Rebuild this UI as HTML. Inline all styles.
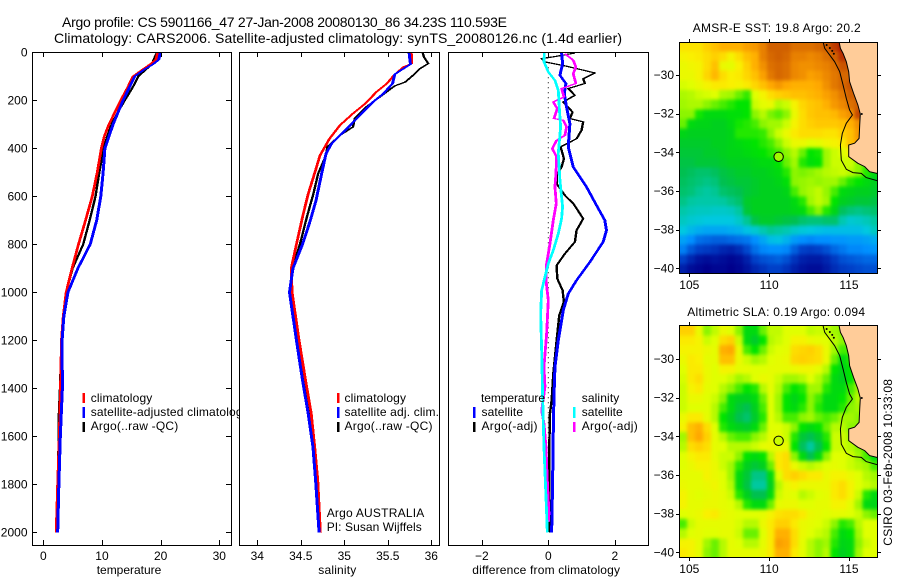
<!DOCTYPE html>
<html>
<head>
<meta charset="utf-8">
<title>Argo profile</title>
<style>
html,body{margin:0;padding:0;background:#fff;}
svg{display:block;}
text{font-family:"Liberation Sans",sans-serif;font-size:12px;fill:#000;}
.title{font-size:14px;}
</style>
</head>
<body>
<svg id="chart" xmlns="http://www.w3.org/2000/svg" width="900" height="580" viewBox="0 0 900 580">
<defs>
<filter id="cell-smooth" filterUnits="userSpaceOnUse" x="640" y="0" width="260" height="580" color-interpolation-filters="sRGB"><feGaussianBlur stdDeviation="1.8"/></filter>
<clipPath id="clip-sst"><rect x="679" y="42" width="198" height="231"/></clipPath>
<clipPath id="clip-sla"><rect x="679" y="325" width="198" height="232"/></clipPath>
</defs>
<rect x="0" y="0" width="900" height="580" fill="#fff"/>
<text class="title" x="62" y="27" textLength="445" lengthAdjust="spacing">Argo profile: CS 5901166_47 27-Jan-2008 20080130_86 34.23S 110.593E</text>
<text class="title" x="54" y="43" textLength="568" lengthAdjust="spacing">Climatology: CARS2006. Satellite-adjusted climatology: synTS_20080126.nc (1.4d earlier)</text>

<g id="panel-temp"></g>
<g>
<rect x="82.5" y="393" width="2.5" height="10" fill="#f00"/>
<rect x="82.5" y="407" width="2.5" height="11" fill="#00f"/>
<rect x="82.5" y="422" width="2.5" height="10" fill="#000"/>
<text x="90.7" y="402" textLength="61.6" lengthAdjust="spacing">climatology</text>
<text x="90.7" y="416" textLength="158" lengthAdjust="spacing">satellite-adjusted climatology</text>
<text x="90.7" y="430" textLength="87.6" lengthAdjust="spacing">Argo(..raw -QC)</text>
</g>
<text x="96.7" y="574" textLength="64.6" lengthAdjust="spacing">temperature</text>

<g id="panel-sal"></g>
<g>
<rect x="337" y="393" width="2.5" height="10" fill="#f00"/>
<rect x="337" y="407" width="2.5" height="11" fill="#00f"/>
<rect x="337" y="422" width="2.5" height="10" fill="#000"/>
<text x="344.5" y="402" textLength="61.5" lengthAdjust="spacing">climatology</text>
<text x="344.5" y="416" textLength="94.5" lengthAdjust="spacing">satellite adj. clim.</text>
<text x="344.5" y="430" textLength="88" lengthAdjust="spacing">Argo(..raw -QC)</text>
<text x="326.7" y="517" textLength="97.6" lengthAdjust="spacing">Argo AUSTRALIA</text>
<text x="326.7" y="531" textLength="95" lengthAdjust="spacing">PI: Susan Wijffels</text>
</g>
<text x="318.3" y="574" textLength="38" lengthAdjust="spacing">salinity</text>

<g id="panel-diff"></g>
<g>
<rect x="473" y="407" width="2.5" height="11" fill="#00f"/>
<rect x="473" y="422" width="2.5" height="10" fill="#000"/>
<rect x="573" y="407" width="2.5" height="11" fill="#0ff"/>
<rect x="573" y="422" width="2.5" height="10" fill="#f0f"/>
<text x="481" y="402" textLength="64" lengthAdjust="spacing">temperature</text>
<text x="481.5" y="416" textLength="41.5" lengthAdjust="spacing">satellite</text>
<text x="481.5" y="430" textLength="56" lengthAdjust="spacing">Argo(-adj)</text>
<text x="581.7" y="402" textLength="37.6" lengthAdjust="spacing">salinity</text>
<text x="581.7" y="416" textLength="41" lengthAdjust="spacing">satellite</text>
<text x="581.7" y="430" textLength="56" lengthAdjust="spacing">Argo(-adj)</text>
</g>
<text x="472.3" y="574" textLength="147.7" lengthAdjust="spacing">difference from climatology</text>

<g id="map-sst"></g>
<text x="692.7" y="32" textLength="168" lengthAdjust="spacing">AMSR-E SST: 19.8 Argo: 20.2</text>
<g id="map-sla"></g>
<text x="687.3" y="316" textLength="177.7" lengthAdjust="spacing">Altimetric SLA: 0.19 Argo: 0.094</text>
<text transform="translate(892,545.7) rotate(-90)" x="0" y="0" textLength="166.7" lengthAdjust="spacing">CSIRO 03-Feb-2008 10:33:08</text>
</svg>

<script>
const depthTicks = [0,200,400,600,800,1000,1200,1400,1600,1800,2000];
const tempTicks = [0,10,20,30];
const salTicks = [34,34.5,35,35.5,36];
const salTickLabels = ['34','34.5','35','35.5','36'];
const diffTicks = [-2,0,2];
const diffTickLabels = ['\u22122','0','2'];
const lonTicks = [105,110,115];
const latTicks = [-30,-32,-34,-36,-38,-40];
const latTickLabels = ['\u221230','\u221232','\u221234','\u221236','\u221238','\u221240'];

const tempClimDepth = [0,30,50,70,100,150,200,300,350,400,500,600,700,800,900,1000,1100,1200,1367,1600,1800,2000];
const tempClimValues = [19.5,19.2,18.2,17,15.3,14.3,13.2,11.2,10.4,9.9,9.2,8.35,7.2,6,4.9,3.9,3.4,3.1,2.96,2.73,2.45,2.2];
const tempSatDepth = [0,30,50,70,100,150,200,300,400,500,600,700,800,900,1000,1100,1200,1400,1600,1800,2000];
const tempSatValues = [19.95,19.7,18.7,17.3,15.6,14.6,13.6,11.9,10.5,10.2,9.8,9.1,8,5.9,4.2,3.5,3.2,3.25,2.9,2.65,2.45];
const tempArgoDepth = [0,20,50,70,100,130,160,200,250,300,350,400,500,600,700,800,900,1000,1200,1400,1500,1600,1800,2000];
const tempArgoValues = [19.4,19,18.5,17.6,16.2,15.6,14.9,13.9,12.7,11.65,10.9,10.3,9.55,8.9,7.9,6.8,5,3.9,3.1,2.85,2.67,2.62,2.5,2.4];

const salClimDepth = [0,47,61,96,130,165,214,255,304,360,430,485,590,686,800,900,1000,1200,1367,1505,1645,1783,2000];
const salClimValues = [35.77,35.775,35.68,35.57,35.49,35.37,35.24,35.1,34.95,34.83,34.72,34.675,34.585,34.52,34.45,34.39,34.4,34.48,34.555,34.62,34.66,34.695,34.725];
const salSatDepth = [0,33,50,68,92,130,172,207,262,318,380,422,505,617,700,800,900,1000,1200,1367,1505,1645,1783,2000];
const salSatValues = [35.744,35.755,35.76,35.68,35.58,35.555,35.45,35.33,35.18,35.03,34.855,34.79,34.74,34.675,34.61,34.52,34.41,34.37,34.45,34.52,34.585,34.64,34.67,34.71];
const salArgoDepth = [0,19,47,68,96,124,140,186,228,276,311,346,394,429,505,589,686,800,900,1000,1200,1367,1505,1645,1783,2000];
const salArgoValues = [35.9,35.915,35.965,35.87,35.79,35.7,35.58,35.41,35.25,35.12,35.1,34.95,34.805,34.79,34.7,34.645,34.57,34.49,34.4,34.39,34.46,34.55,34.6,34.65,34.68,34.72];

const diffTempArgoDepth = [3,19,26,40,58,86,110,130,151,179,207,249,276,290,325,360,394,443,478,512,547,596,630,693,742,790,839,888,943,992,1040,1096,1200,1339,1450,1506,1645,1800,2000];
const diffTempArgoValues = [0.8,0.15,-0.2,-0.1,0.55,1.4,1.05,1.1,0.6,0.8,0.45,0.73,0.65,1.05,1,0.85,0.37,0.47,0.4,0.25,0.25,0.5,0.75,1.05,0.85,0.8,0.5,0.25,0.27,0.43,0.47,0.33,0.25,0.15,0.1,0.05,0.03,0.03,0.05];
const diffTempSatDepth = [3,47,96,130,172,214,297,394,478,561,630,700,742,790,874,950,1006,1075,1200,1311,1436,1575,1784,2000];
const diffTempSatValues = [0.4,0.43,0.35,0.53,0.48,0.53,0.65,0.6,0.75,1.15,1.42,1.7,1.75,1.65,1.25,0.85,0.6,0.45,0.3,0.2,0.17,0.15,0.13,0.1];
const diffSalSatDepth = [3,40,82,117,158,228,311,422,533,644,693,756,825,881,936,992,1089,1242,1436,1547,1645,1784,1922,2000];
const diffSalSatValues = [-0.12,-0.13,0,0.2,0.3,0.33,0.37,0.3,0.35,0.43,0.4,0.3,0.15,0,-0.1,-0.2,-0.23,-0.2,-0.17,-0.15,-0.13,-0.09,-0.05,-0.03];
const diffSalArgoDepth = [6,33,61,89,130,151,186,207,235,276,283,311,346,367,401,436,505,561,630,700,797,881,950,1033,1172,1311,1394,1492,1547,1645,1784,1922,1957];
const diffSalArgoValues = [0.5,0.75,0.83,0.75,0.83,0.4,0.47,0.15,0.27,0.17,0.45,0.55,0.5,0.25,0.12,0.25,0.23,0.2,0.24,0.15,0.05,-0.05,-0.07,0,-0.05,-0.13,-0.1,-0.2,-0.13,-0.07,-0.03,0.02,0];

/* colour-index values (0 navy ... 10 dark red) read per half-degree cell, north to south, west to east */
const sstValues = [
[7.5,7.5,7.5,7.8,8,8.2,8.2,8.2,8.4,8.5,8.8,9.2,9.2,9.2,9,9,9,9.1,9.2,9.5,9.8],
[7.2,7.3,7.4,7.6,7.8,7.6,7.2,7.6,8,8.2,8.8,9.1,9.2,9.1,8.8,8.8,8.7,8.8,9,9.2,9.6],
[7,7.1,7.2,7.6,8,7,6.9,7.3,7.8,8.2,8.6,9,9.1,9,8.7,8.6,8.6,8.7,8.8,9,9.3],
[7,7,7.2,7.7,8.1,7.6,7.3,7.4,7.7,8,8.4,8.9,9.1,9,8.7,8.6,8.4,8.5,8.7,8.9,9.1],
[6.7,6.8,7,7.2,7.4,7.4,7.3,7.2,7.4,7.7,8,8.3,8.5,8.3,8.2,8.2,8.2,8.3,8.6,8.9,9.1,9.3],
[6.3,6.4,6.6,6.7,6.8,6.3,6.2,5.8,5.5,6.8,7.2,7.6,7.8,7.9,8,8,8.1,8.2,8.4,8.6,8.9,9.2],
[6.2,6.3,6.3,6,5.8,5.6,5.4,5.2,5.2,6.6,6.9,7,6.4,6.6,7.2,7.7,7.9,8,8.2,8.5,8.7,9,9.2],
[6,6,5.3,5,5,5,5.1,5.1,5.2,6,6.4,5.9,5.7,6,7,7.6,7.9,8,8,8.1,8.4,8.6,9.4],
[5.8,5,4.9,4.9,4.8,4.8,5,5.3,5.4,5.6,6,6.2,6.2,6.6,7.2,7.6,7.8,7.9,7.9,7.9,8,8.2,8.6],
[4.9,4.8,4.8,4.8,4.8,4.8,4.9,5.4,5.4,5.4,5.5,6,6.6,7,7.4,7.6,7.6,7.6,7.5,7.5,7.8,8,8.5],
[4.7,4.7,4.7,4.7,4.8,4.8,4.9,5,5.1,5.2,5.4,5.6,6,6.6,7,7,6.8,6.9,7.1,7.2,7.4,8,8.4],
[4.6,4.6,4.6,4.7,4.7,4.8,4.9,4.9,5,5.1,5.2,5.4,5.6,6,6.4,5.8,5.2,5.3,6.2,6.6,6.8,7.2,7.4],
[4.5,4.5,4.6,4.6,4.6,4.7,4.8,4.8,4.8,4.9,5,5,5.2,5.8,6.2,5.4,5.1,5.2,6.2,6.6,6.6,6.6,6,5.6],
[4.4,4.3,4.2,4.2,4.3,4.5,4.6,4.7,4.7,4.8,4.8,4.9,5,5.4,6,5.9,6,6.2,6.4,6.5,6.6,6.4,6,5.4,5],
[4.3,4.2,4.1,4,4.1,4.4,4.5,4.6,4.6,4.7,4.8,4.8,4.9,5.1,6,6.1,6.2,6.1,6.2,6.2,5.8,5.4,5.2,5,4.8],
[4.2,4.1,3.9,3.8,3.9,4.2,4.3,4.4,4.6,4.7,4.8,4.8,4.8,4.9,5.6,6.1,6.3,6.5,6.1,5.6,5,4.9,4.8,4.8,4.7],
[4,3.8,3.7,3.7,3.7,3.8,4,4.2,4.7,4.8,4.8,4.8,4.8,4.8,5,5.4,6.2,6.5,6.2,5.2,4.8,4.7,4.6,4.6,4.5],
[3.7,3.5,3.4,3.4,3.3,3.3,3.4,3.8,4.6,4.8,4.8,4.8,4.8,4.8,4.9,5,5.6,6,5.4,4.9,4.3,4.1,4,4.1,4.2],
[3.4,3.2,3.1,3,3,3,3,3.3,3.9,4.5,4.7,4.7,4.6,4.5,4.4,4.2,4.1,4.1,4.2,4.2,3.6,3.2,3.3,3.5,3.8],
[3,2.7,2.5,2.4,2.4,2.4,2.5,2.6,2.9,3.2,3.6,3.9,3.8,3.6,3.3,3.1,3,2.9,2.8,2.8,2.8,2.8,2.8,3,3.4],
[2.3,2,1.6,1.5,1.4,1.4,1.5,1.6,1.7,2,2.4,2.8,2.9,2.6,2.2,2,1.9,2,2,2.1,2.1,2.2,2.2,2.3,2.5],
[1.8,1.3,1,0.9,0.8,0.6,0.5,0.7,1.1,1.6,1.9,2,2,1.9,1.4,1,0.9,1,1.2,1.5,1.7,1.9,1.9,2,2.1],
[1,0.6,0.3,0.2,0.3,0.2,0.1,0.2,0.5,1,1.2,1.3,1.4,1.2,0.8,0.5,0.4,0.4,0.6,0.9,1.2,1.3,1.4,1.5,1.5],
[0.5,0.2,0.1,0,0.1,0.1,0,0.1,0.3,0.6,0.8,1,1,0.8,0.5,0.3,0.2,0.2,0.4,0.7,0.9,1,1.1,1.2,1.2]
];
const slaValues = [
[7.8,7.8,7,6,6.5,7,6.8,6,5,5,5.8,6.5,6.5,6.8,6.8,6.8,6.5,6.6,6.5,6.2,6],
[7.4,7.4,7.2,6.6,6.8,7.6,7.8,6.6,5,4.7,5.2,6.4,6.6,6.8,7.2,7.2,7,6.9,6.8,6.4,6,5.6],
[7.2,7.2,7.2,7,6.9,8.2,8.3,7,5.6,5.2,5.8,6.6,6.8,6.9,7.6,7.7,7.8,7.6,7,6.2,5.6,5.6],
[7,7.4,7.3,6.9,6.9,8,8,7,6.6,6.2,6.4,6.8,6.9,7,7.7,7.8,7.7,7.6,7,5.8,5,5.4,6],
[6.8,7.4,7.4,7,6.8,7.2,7.2,6.9,6.9,6.8,6.8,6.9,6.9,6.9,7,7.1,7.1,6.9,6.4,5.2,4.9,5.2,6],
[6.7,7.4,7.6,7,6.8,6.8,6.6,6.2,6.4,6.8,7,6.9,6.6,6.2,6.2,6.4,6.8,6.4,5.8,5,4.8,5.2,6],
[6.6,7.2,7.4,6.9,6.8,6.4,6,5.6,5.2,5.4,6.4,6.9,6.4,5.6,5.2,5.4,6.2,6.2,5.4,5,5,5.6,6.2],
[6.6,7,7,6.8,6.6,6,5,4.8,4.8,5,5.8,6.8,6.2,5.2,4.9,5.2,6,5.6,5,5,5.2,5.8,6.4],
[6.6,6.8,6.8,6.8,6.4,5.6,5,4.6,4.4,4.8,5.6,6.8,6.2,5.2,5,5.4,6,5.4,5,5,5.4,6,6.2],
[7,7.4,7.4,6.9,6.4,5.2,4.8,4.4,4.2,4.7,5.4,6.8,6.4,5.6,5.6,6,6.2,5.8,5.6,5.8,6.2,6.2,6],
[7.2,8,8.2,7.6,6.8,5.4,5,4.8,4.7,5,5.8,6.8,6.8,6.6,6,5.2,5,5.2,5.8,6.4,6.4,6,6],
[6.2,8,8.3,7.8,6.9,6.4,5.8,5.6,5.6,6,6.4,6.9,6.9,6.6,5.4,4.6,4.4,4.7,5.4,6.6,6.6,6.2,5.8],
[6.4,7.6,7.8,7.6,6.9,6.8,6.4,6.4,6.4,6.6,6.9,7,6.9,7,5.2,4.3,3.8,4.4,5.2,6.6,6.6,6.4,6,5.6],
[6.8,7.2,7.4,7.4,6.9,6.6,6.6,6,5.2,5,5.2,6.4,7.4,7.6,6,5,4.4,5,6,6.8,6.8,6.6,6.2,5.6,5],
[6.8,7,7.2,7.2,7,6.6,6.2,5.4,4.8,4.6,4.8,5.8,7.4,7.6,7,6.6,6.4,6.6,6.8,6.9,6.8,6.6,6.4,6.2,5.6],
[6.9,6.9,6.9,7.2,7,6.8,6.2,5,4.6,4,4,5,6.8,7.6,7.8,7.6,7.4,7.4,7,7.2,7.2,7,6.8,6.4,6.2],
[7,6.9,6.9,7,7.1,6.8,6.4,5,4.5,3.8,3.8,4.8,6.4,7,7.2,7,7,7,7,7.4,7.6,7.2,6.8,6.6,6.4],
[7.2,6.9,6.8,6.9,7,6.9,6.6,5.4,4.8,4.4,4.4,5,6.6,6.9,6.8,6.4,6.6,6.8,6.9,7.4,7.6,7.2,6.6,5.4,5],
[7.2,6.9,6.9,7,7,6.9,6.8,6.4,5.4,5,5,5.8,6.9,7,7,6.8,6.8,6.9,6.9,7.2,7.2,6.9,6.2,5,4.9],
[6.8,6.9,7,7.3,7.4,7,6.9,6.8,6.8,6.8,6.9,7.2,7.5,7.6,7.6,7.4,7,6.9,6.8,6.9,6.9,6.8,6.6,6,5.8],
[5.6,6.6,6.9,6.9,6.9,6.9,6.9,6.7,6.4,6.4,7,7.4,7.8,7.8,7.4,7,6.9,6.8,6.6,6,5.4,5.6,6.4,6.8,6.8],
[6.4,6.8,6.9,6.8,6.8,6.9,6.9,6.6,5.8,5.8,6.8,7.4,8.2,8.2,7.6,7,6.8,6.6,6.4,5.6,5,5.2,6.2,6.8,6.8],
[7.2,7.2,6.9,6.2,5.8,6.4,6.9,6.8,6.4,6.4,6.9,7.4,8.4,8.3,7.6,6.9,6.4,6,6.2,5.4,4.9,5,6,6.6,6.8],
[7.4,7.2,6.9,6,5.8,6.4,6.9,6.9,6.9,6.9,7,7.4,8.2,8.2,7.4,6.9,6.4,6,6.4,5.2,4.8,5,6.2,6.8,6.8]
];
const coastLon = [114.38,114.46,114.63,114.83,114.98,115.04,115.29,115.56,115.71,115.67,115.63,115.35,114.98,114.98,115.56,115.98,116.29,116.76];
const coastLat = [-28.28,-28.62,-28.88,-29.31,-29.83,-30.34,-30.95,-31.55,-32.02,-32.59,-33.28,-33.53,-33.62,-34.22,-34.57,-34.74,-35,-35.09];
const contourLon = [113.38,113.48,113.79,114.1,114.42,114.63,114.83,115.04,115.21,114.83,114.58,114.46,114.52,114.83,115.25,115.77,116.08,116.76];
const contourLat = [-28.28,-28.62,-28.97,-29.31,-29.83,-30.52,-31.21,-31.81,-32.07,-32.5,-33.02,-33.62,-34.4,-34.88,-35.05,-35.09,-35.31,-35.47];
const islandLon = [113.6,113.8,113.95,114.05,115.8];
const islandLat = [-28.45,-28.6,-28.75,-28.9,-32.02];
const floatLon = [110.593];
const floatLat = [-34.23];
const sstAtFloat = [6.2];
const slaAtFloat = [6.6];

const SVGNS = 'http://www.w3.org/2000/svg';
function make(tag, parent, attrs) {
  const el = document.createElementNS(SVGNS, tag);
  for (const k in attrs) el.setAttribute(k, attrs[k]);
  parent.appendChild(el);
  return el;
}
const scale = (d0, d1, r0, r1) => v => r0 + (v - d0) * (r1 - r0) / (d1 - d0);
const yDepth = scale(0, 2000, 52.3, 532.3);
const PTOP = 52, PBOT = 545;

/* elliptical pen: wide on near-vertical runs, thin on slanted runs */
function drawProfile(parent, xf, depth, values, color, penW, name) {
  const penH = 1.2;
  const pts = values.map((v, i) => (xf(v) / penW).toFixed(3) + ',' + (yDepth(depth[i]) / penH).toFixed(3)).join(' ');
  const line = make('polyline', parent, {points: pts, fill: 'none', stroke: color, 'stroke-width': 1, 'stroke-linejoin': 'round', transform: 'scale(' + penW + ',' + penH + ')', 'shape-rendering': 'crispEdges'});
  
  
}

function drawPanel(id, left, right, xf, ticks, labels, showY, drawSeries) {
  const g = document.getElementById(id);
  const bg = make('rect', g, {x: left, y: PTOP, width: right - left, height: PBOT - PTOP, fill: '#fff'});
  
  
  drawSeries(g);
  const frame = make('rect', g, {x: left + .5, y: PTOP + .5, width: right - left, height: PBOT - PTOP, fill: 'none', stroke: '#000', 'stroke-width': 1});
  
  
  ticks.forEach((t, i) => {
    const x = Math.round(xf(t)) + .5;
    const top = make('line', g, {x1: x, x2: x, y1: PTOP, y2: PTOP + 5, stroke: '#000'});
    
    
    const bot = make('line', g, {x1: x, x2: x, y1: PBOT, y2: PBOT - 5, stroke: '#000'});
    
    
    const lab = make('text', g, {x: xf(t), y: 560, 'text-anchor': 'middle'});
    
    
    lab.textContent = labels[i];
  });
  if (showY) {
    depthTicks.forEach(d => {
      const y = Math.round(yDepth(d)) + .5;
      const l = make('line', g, {x1: left, x2: left + 5, y1: y, y2: y, stroke: '#000'});
      
      
      const r = make('line', g, {x1: right, x2: right - 5, y1: y, y2: y, stroke: '#000'});
      
      
      const lab = make('text', g, {x: 27.5, y: yDepth(d) + 4, 'text-anchor': 'end'});
      
      
      lab.textContent = String(d);
    });
  }
}

const xTemp = scale(0, 30, 43.3, 219.3);
const xSal = scale(34, 36, 257.3, 431.3);
const xDiff = scale(-2, 2, 481.8, 614.8);

drawPanel('panel-temp', 32, 231, xTemp, tempTicks, tempTicks.map(String), true, g => {
  drawProfile(g, xTemp, tempArgoDepth, tempArgoValues, '#000', 2.4, 'temperature-argo-line');
  drawProfile(g, xTemp, tempClimDepth, tempClimValues, '#f00', 2.8, 'temperature-climatology-line');
  drawProfile(g, xTemp, tempSatDepth, tempSatValues, '#00f', 3, 'temperature-satellite-line');
});
drawPanel('panel-sal', 239, 439, xSal, salTicks, salTickLabels, false, g => {
  drawProfile(g, xSal, salArgoDepth, salArgoValues, '#000', 2.4, 'salinity-argo-line');
  drawProfile(g, xSal, salClimDepth, salClimValues, '#f00', 2.8, 'salinity-climatology-line');
  drawProfile(g, xSal, salSatDepth, salSatValues, '#00f', 3, 'salinity-satellite-line');
});
drawPanel('panel-diff', 448, 648, xDiff, diffTicks, diffTickLabels, false, g => {
  const zero = make('line', g, {x1: xDiff(0), x2: xDiff(0), y1: yDepth(0), y2: yDepth(2000), stroke: '#000', 'stroke-width': 1, 'stroke-dasharray': '1 4'});
  
  
  drawProfile(g, xDiff, diffTempArgoDepth, diffTempArgoValues, '#000', 2.4, 'difference-temperature-argo-line');
  drawProfile(g, xDiff, diffTempSatDepth, diffTempSatValues, '#00f', 3, 'difference-temperature-satellite-line');
  drawProfile(g, xDiff, diffSalArgoDepth, diffSalArgoValues, '#f0f', 2.8, 'difference-salinity-argo-line');
  drawProfile(g, xDiff, diffSalSatDepth, diffSalSatValues, '#0ff', 2.8, 'difference-salinity-satellite-line');
});

const colourIdx = [0,1,2,3,3.8,4.4,4.8,5.2,6,6.8,7.3,7.8,8.3,8.8,9.2,10];
const colourRgb = [[0,0,140],[0,64,200],[0,144,255],[0,200,224],[0,200,160],[0,192,80],[0,208,30],[0,228,0],[140,245,0],[224,255,0],[250,240,0],[255,208,0],[255,168,0],[232,128,0],[208,96,0],[160,0,0]];
function colourOf(v) {
  let i = 0;
  while (i < colourIdx.length - 2 && v > colourIdx[i + 1]) i++;
  const f = Math.max(0, Math.min(1, (v - colourIdx[i]) / (colourIdx[i + 1] - colourIdx[i])));
  const c = colourRgb[i].map((a, k) => Math.round(a + (colourRgb[i + 1][k] - a) * f));
  return 'rgb(' + c.join(',') + ')';
}

function drawMap(id, clipId, top, bottom, lat30y, grid, floatValue) {
  const LEFT = 679, RIGHT = 877;
  const LON0 = 104.35, LAT0 = -28.28;
  const xLon = scale(105, 115, 689.3, 849);
  const yLat = scale(-30, -40, lat30y, lat30y + 193.3);
  const g = document.getElementById(id);
  const clip = make('g', g, {'clip-path': 'url(#' + clipId + ')'});
  
  
  const cells = make('g', clip, {filter: 'url(#cell-smooth)'});
  
  
  const nCols = 25;
  const nRows = grid.length;
  const bleed = 12;
  grid.forEach((row, j) => {
    for (let i = 0; i < nCols; i++) {
      const v = i < row.length ? row[i] : row[row.length - 1];
      const x0 = xLon(LON0 + i * 0.5) - (i === 0 ? bleed : 0);
      const x1 = xLon(LON0 + (i + 1) * 0.5) + (i === nCols - 1 ? bleed : 0);
      const y0 = yLat(LAT0 - j * 0.5) - (j === 0 ? bleed : 0);
      const y1 = yLat(LAT0 - (j + 1) * 0.5) + (j === nRows - 1 ? bleed : 0);
      const cell = make('rect', cells, {x: x0.toFixed(1), y: y0.toFixed(1), width: (x1 - x0 + .6).toFixed(1), height: (y1 - y0 + .6).toFixed(1), fill: colourOf(v), 'shape-rendering': 'crispEdges'});
      
      
    }
  });
  const coast = coastLon.map((lon, i) => xLon(lon).toFixed(1) + ',' + yLat(coastLat[i]).toFixed(1));
  const landPts = coast.concat([xLon(116.76).toFixed(1) + ',' + yLat(LAT0).toFixed(1)]).join(' ');
  const land = make('polygon', clip, {points: landPts, fill: '#ffcc99', stroke: 'none'});
  
  
  const coastLine = make('polyline', clip, {points: coast.join(' '), fill: 'none', stroke: '#000', 'stroke-width': 1});
  
  
  const contourPts = contourLon.map((lon, i) => xLon(lon).toFixed(1) + ',' + yLat(contourLat[i]).toFixed(1)).join(' ');
  const contour = make('polyline', clip, {points: contourPts, fill: 'none', stroke: '#000', 'stroke-width': 1});
  
  
  islandLon.forEach((lon, i) => {
    const dot = make('circle', clip, {cx: xLon(lon), cy: yLat(islandLat[i]), r: 1, fill: '#000'});
    
    
  });
  const marker = make('circle', g, {cx: xLon(floatLon[0]), cy: yLat(floatLat[0]), r: 4.7, fill: colourOf(floatValue), stroke: '#000', 'stroke-width': 1});
  
  
  const frame = make('rect', g, {x: LEFT + .5, y: top + .5, width: RIGHT - LEFT, height: bottom - top, fill: 'none', stroke: '#000'});
  
  
  lonTicks.forEach(lon => {
    const x = Math.round(xLon(lon)) + .5;
    const t1 = make('line', g, {x1: x, x2: x, y1: top, y2: top - 3, stroke: '#000'});
    
    
    const t2 = make('line', g, {x1: x, x2: x, y1: bottom + 1, y2: bottom + 4, stroke: '#000'});
    
    
    const lab = make('text', g, {x: xLon(lon), y: bottom + 16, 'text-anchor': 'middle'});
    
    
    lab.textContent = String(lon);
  });
  latTicks.forEach((lat, i) => {
    const y = Math.round(yLat(lat)) + .5;
    const t1 = make('line', g, {x1: LEFT, x2: LEFT - 3, y1: y, y2: y, stroke: '#000'});
    
    
    const t2 = make('line', g, {x1: RIGHT + 1, x2: RIGHT + 4, y1: y, y2: y, stroke: '#000'});
    
    
    const lab = make('text', g, {x: 674, y: yLat(lat) + 4, 'text-anchor': 'end'});
    
    
    lab.textContent = latTickLabels[i];
  });
}

drawMap('map-sst', 'clip-sst', 42, 273, 75, sstValues, sstAtFloat[0]);
drawMap('map-sla', 'clip-sla', 325, 557, 359, slaValues, slaAtFloat[0]);
</script>
</body>
</html>
